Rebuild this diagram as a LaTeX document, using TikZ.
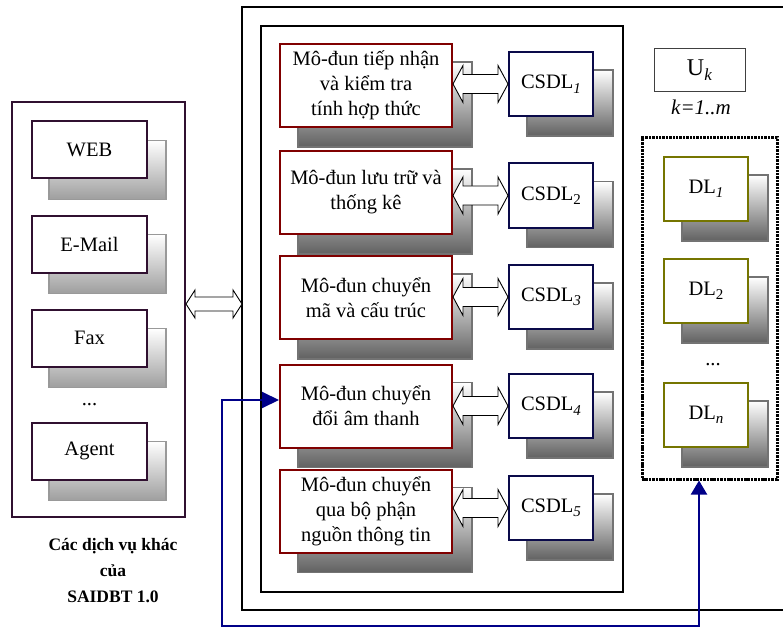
\documentclass[tikz,border=0pt]{standalone}
\usepackage{fontspec}
\setmainfont{Liberation Serif}
\usetikzlibrary{calc,arrows.meta}
\pgfdeclarelayer{bg}\pgfsetlayers{bg,main}
\definecolor{modred}{HTML}{800000}
\definecolor{dbnavy}{HTML}{0A0A4A}
\definecolor{dlolive}{HTML}{757500}
\definecolor{svcpurple}{HTML}{301030}
\definecolor{linkblue}{HTML}{000088}
\newcommand\sbs[1]{\raisebox{-0.22em}{\fontsize{15}{15}\selectfont #1}}
\tikzset{
  box/.style={draw, fill=white, inner sep=0pt, align=center, font=\fontsize{20.5}{25}\selectfont},
  modbox/.style={box, draw=modred, line width=2pt, minimum width=172pt, minimum height=83pt},
  dbbox/.style={box, draw=dbnavy, line width=2pt, minimum width=84pt, minimum height=64pt},
  dlbox/.style={box, draw=dlolive, line width=2pt, minimum width=84pt, minimum height=64pt},
  svcbox/.style={box, draw=svcpurple, line width=2pt, minimum width=115pt, minimum height=57pt},
  shadeM/.style={draw=black!55, line width=1.2pt, top color=white, bottom color=black!62},
  shadeL/.style={draw=black!40, line width=1.2pt, top color=white, bottom color=black!38},
  hollowarr/.style={draw=black, fill=white, line width=0.9pt, line join=miter},
  conn/.style={draw=linkblue, line width=2pt},
  panel/.style={draw=svcpurple, line width=2pt, minimum width=173pt, minimum height=415pt, inner sep=0pt},
  dotbox/.style={draw=black, line width=3pt, dash pattern=on 2.5pt off 0.9pt, minimum width=135pt, minimum height=341pt, inner sep=0pt},
  dots/.style={font=\fontsize{20.5}{25}\selectfont}
}
\newcommand\dblarr[5]{%
\draw[hollowarr] (#1) -- ($(#1)+(#5,-#3)$) -- ($(#1)+(#5,-#4)$) -- ($(#2)+(-#5,-#4)$) -- ($(#2)+(-#5,-#3)$) -- (#2) -- ($(#2)+(-#5,#3)$) -- ($(#2)+(-#5,#4)$) -- ($(#1)+(#5,#4)$) -- ($(#1)+(#5,#3)$) -- cycle;}
\begin{document}
\begin{tikzpicture}[x=1pt,y=-1pt]
\useasboundingbox (0,0) rectangle (783,628);
% left panel
\node[panel] (svc) at (98.5,309.5) {};
\node[svcbox] (web) at (89.5,150) {WEB};
\node[svcbox] (mail) at (89.5,244) {E-Mail};
\node[svcbox] (fax) at (89.5,338) {Fax};
\node[dots] (ldots) at (89.5,405) {...};
\node[svcbox] (agent) at (89.5,451) {Agent};
\node[align=center, font=\bfseries\fontsize{17.5}{26}\selectfont] (cap) at (113,571) {Các dịch vụ khác\\của\\SAIDBT 1.0};
% outer and inner boxes
\coordinate (otl) at (783,7);
\coordinate (obl) at (783,610);
\coordinate (ow) at (242,304);
\draw[line width=1.3pt] (otl) -- (242,7) -- (242,610) -- (obl);
\node[draw, line width=1.3pt, minimum width=362pt, minimum height=566pt, inner sep=0pt] (inner) at (442,309) {};
% modules
\node[modbox] (m1) at (366,85.5) {Mô-đun tiếp nhận\\và kiểm tra\\tính hợp thức};
\node[modbox] (m2) at (366,192.5) {Mô-đun lưu trữ và\\thống kê};
\node[modbox] (m3) at (366,297.5) {Mô-đun chuyển\\mã và cấu trúc};
\node[modbox] (m4) at (366,406) {Mô-đun chuyển\\đổi âm thanh};
\node[modbox] (m5) at (366,511) {Mô-đun chuyển\\qua bộ phận\\nguồn thông tin};
% databases
\node[dbbox] (c1) at (551,84) {CSDL\sbs{\textit{1}}};
\node[dbbox] (c2) at (551,195.5) {CSDL\sbs{2}};
\node[dbbox] (c3) at (551,297) {CSDL\sbs{\textit{3}}};
\node[dbbox] (c4) at (551,406) {CSDL\sbs{\textit{4}}};
\node[dbbox] (c5) at (551,508) {CSDL\sbs{\textit{5}}};
% U_k
\node[draw=black!75, line width=1pt, minimum width=91pt, minimum height=43pt, inner sep=0pt, font=\fontsize{24}{28}\selectfont] (uk) at (699.5,70.5) {U\sbs{\textit{\fontsize{17}{17}\selectfont k}}};
\node[font=\itshape\fontsize{21}{24}\selectfont] (km) at (701,107) {k=1..m};
% DL group
\node[dotbox] (dlg) at (709.5,308.5) {};
\node[dlbox] (d1) at (706,189) {DL\sbs{\textit{1}}};
\node[dlbox] (d2) at (706,291) {DL\sbs{2}};
\node[dots] (rdots) at (713,365) {...};
\node[dlbox] (d3) at (706,415) {DL\sbs{\textit{n}}};
% shadows
\begin{pgfonlayer}{bg}
\foreach \n in {m1,m2,m3,m4,m5,c1,c2,c3,c4,c5,d1,d2,d3}{
  \draw[shadeM] ($(\n.south west)+(19,19)$) rectangle ($(\n.north east)+(19,19)$);
}
\foreach \n in {web,mail,fax,agent}{
  \draw[shadeL] ($(\n.south west)+(18,20)$) rectangle ($(\n.north east)+(18,20)$);
}
\end{pgfonlayer}
% double arrows
\coordinate (la) at ([yshift=5.5pt]svc.east);
\dblarr{la}{ow}{14}{7}{9}
\foreach \i in {1,...,5}{
  \coordinate (a\i) at (m\i.east |- c\i.west);
  \coordinate (b\i) at (c\i.west);
  \dblarr{a\i}{b\i}{18.5}{9.5}{10}
}
% blue connector
\coordinate (bl) at (222,626);
\coordinate (br) at (699,626);
\draw[conn, {Triangle[length=17pt,width=16pt]}-{Triangle[length=14pt,width=16pt]}] ([yshift=6pt]m4.west) -| (bl) -- (br) -- (br |- dlg.south);
\end{tikzpicture}
\end{document}
